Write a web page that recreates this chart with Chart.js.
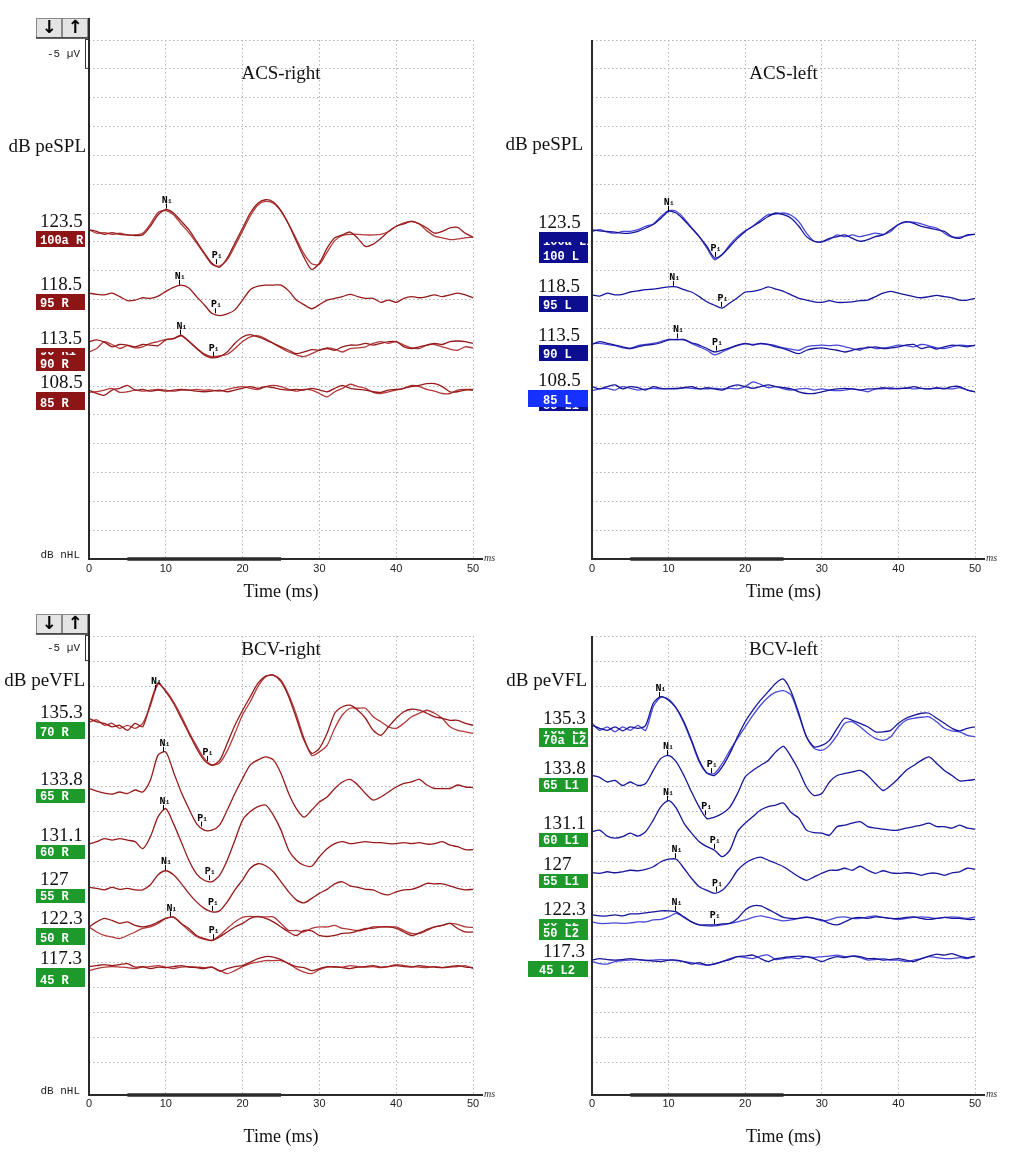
<!DOCTYPE html>
<html>
<head>
<meta charset="utf-8">
<title>VEMP recordings</title>
<script src="https://cdn.jsdelivr.net/npm/chart.js@4.4.1/dist/chart.umd.min.js"></script>
<style>
  html, body { margin: 0; padding: 0; background: #fff; }
  body { position: relative; width: 1021px; height: 1152px; overflow: hidden; }
  canvas { position: absolute; }
</style>
</head>
<body>
<canvas id="acsRight" width="505" height="610" style="left:0;top:0"></canvas>
<canvas id="acsLeft" width="516" height="610" style="left:505px;top:0"></canvas>
<canvas id="bcvRight" width="505" height="542" style="left:0;top:610px"></canvas>
<canvas id="bcvLeft" width="516" height="542" style="left:505px;top:610px"></canvas>
<script>
// sample times, ms
const timeMs = [0,1,2,3,4,5,6,7,8,9,10,11,12,13,14,15,16,17,18,19,20,21,22,23,24,25,
  26,27,28,29,30,31,32,33,34,35,36,37,38,39,40,41,42,43,44,45,46,47,48,49,50];

// ---- ACS right (µV, negative = up; base = trace baseline on the stacked axis)
const acsRightLevels = ['123.5', '118.5', '113.5', '108.5'];
const acsRightTags = ['100a R', '95 R', '90 R', '85 R'];
const acsRightBase = [-57.1, -46.1, -36.8, -29.1];
const acsRightN1 = [10.0, 11.7, 11.9, null];
const acsRightP1 = [16.5, 16.4, 16.1, null];
const acsR100a_1 = [0, 0.3, 0.8, 0.5, 0.8, 0.9, 1.0, 0.9, -0.6, -2.6,
  -3.5, -2.9, -1.5, 0, 2.0, 4.0, 5.8, 6.5, 4.9, 2.3,
  -0.3, -2.9, -4.6, -5.2, -4.8, -3.3, -0.9, 2.0, 4.8, 6.9,
  5.8, 3.2, 1.4, 0.9, 0.4, 1.5, 2.9, 2.5, 1.5, 0.3,
  -0.6, -1.0, -1.5, -1.0, -0.3, 0.6, 0.3, -0.3, -0.4, 0.6, 1.3];
const acsR100a_2 = [0, 0.6, 0.5, 0.8, 0.6, 0.9, 0.9, 0.6, -1.0, -3.0,
  -3.3, -2.6, -1.0, 0.5, 2.3, 4.2, 6.0, 6.3, 5.2, 2.8,
  0.2, -2.4, -4.3, -4.9, -4.6, -3.2, -1.0, 1.6, 4.2, 5.9,
  6.0, 3.9, 1.9, 1.0, 0.8, 0.8, 0.9, 0.9, 0.8, 0.3,
  -0.6, -1.2, -1.4, -1.0, 0.2, 1.1, 1.4, 1.7, 1.6, 1.4, 1.3];
const acsR95 = [0, 0.2, 0.3, 0, 0.6, 1.3, 1.2, 0.8, 0.9, 0.5,
  -0.3, -1.0, -1.4, -0.9, 0.6, 2.0, 3.5, 3.9, 3.6, 2.9,
  1.2, -0.6, -1.2, -1.4, -1.4, -1.4, -0.4, 1.2, 2.0, 2.7,
  2.0, 1.2, 0.9, 0.6, 0.2, 0.6, 0.9, 0.9, 1.6, 1.2,
  1.6, 0.9, 0.6, 0.8, 0.6, 0.3, 0.6, 0.3, 0, 0.3, 0.8];
const acsR90_1 = [-0.9, -1.2, -0.8, 0, -0.4, -0.3, 0, -0.4, -0.3, -0.2,
  -1.2, -1.4, -2.0, -0.9, 0.3, 1.4, 1.9, 1.7, 0.9, -0.6,
  -1.7, -2.1, -1.7, -1.2, -0.6, 0, 0.6, 1.2, 0.9, 0.5,
  0.6, 0.3, 0.6, 0, -0.3, -0.3, -0.6, -0.3, -0.6, -0.9,
  -0.9, 0, 0.3, 0, -0.3, -0.6, -0.4, -0.9, -1.0, -0.9, -0.6];
const acsR90_2 = [0.9, 0.3, -0.9, -0.4, 0.3, -0.2, 0.2, 0, -0.6, -0.9,
  -1.3, -1.4, -1.9, -1.0, 0.2, 1.2, 1.7, 1.6, 1.3, 0.3,
  -0.9, -1.7, -1.9, -1.4, -0.6, 0.2, 0.9, 1.4, 1.7, 1.2,
  0.6, 0.2, 0.4, 0.9, 0.3, 0.2, 0, -0.6, -0.9, -0.6,
  -0.9, -0.3, 0.2, 0.3, -0.3, -0.4, 0, 0.4, 0.6, 0, 0.2];
const acsR85_1 = [-0.2, 0.4, 0.7, -0.2, -0.5, -1.0, -0.2, -0.3, 0, -0.2,
  0, -0.2, -0.3, -0.2, 0, 0.1, 0, -0.2, 0.1, -0.2,
  -0.5, -0.8, -0.5, -0.8, -0.6, -0.3, -0.2, -0.3, -0.2, -0.5,
  -0.2, 0.1, -0.5, -1.0, -0.5, -0.3, -0.2, 0.1, 0.2, -0.2,
  -0.3, -0.5, -0.8, -1.0, -1.3, -1.3, -0.8, 0.1, 0.1, -0.2, -0.2];
const acsR85_2 = [0.2, 0.1, -0.2, -0.5, 0.2, 0.1, -0.2, 0, -0.2, -0.3,
  -0.2, 0, -0.2, -0.2, -0.3, -0.2, -0.2, 0, -0.3, -0.6,
  -0.8, -0.5, -0.3, -0.8, -1.0, -0.8, -0.3, 0, -0.3, -0.2,
  0.4, 1.0, 0.1, -0.5, -1.2, -0.8, -0.5, 0.2, 0.4, 0.1,
  -0.2, -0.5, -1.0, -0.8, -0.3, 0, 0.4, 0.4, -0.2, -0.3, -0.3];

// ---- ACS left
const acsLeftLevels = ['123.5', '118.5', '113.5', '108.5'];
const acsLeftTags = ['100 L', '95 L', '90 L', '85 L'];
const acsLeftBase = [-56.8, -45.8, -37.2, -29.5];
const acsLeftN1 = [9.9, 10.6, 11.1, null];
const acsLeftP1 = [16.0, 16.9, 16.2, null];
const acsL100_1 = [-0.3, -0.1, 0, 0.1, 0.3, 0.3, 0, -0.6, -1.2, -2.3,
  -3.5, -3.2, -2.0, -0.6, 0.9, 2.6, 4.6, 4.0, 2.6, 1.2,
  0, -0.9, -1.7, -2.6, -3.2, -2.9, -2.3, -0.9, 0.9, 1.7,
  1.8, 1.2, 0.9, 0.6, 1.2, 1.7, 1.4, 0.9, 0.6, -0.3,
  -1.2, -1.7, -1.4, -0.9, -0.6, -0.3, 0, 0.9, 1.2, 0.6, 0.5];
const acsL100_2 = [0, -0.3, 0.1, 0.3, 0, 0, -0.3, -0.9, -1.3, -2.6,
  -3.6, -3.5, -2.3, -0.6, 0.9, 2.9, 4.9, 4.0, 2.3, 0.9,
  -0.1, -0.9, -2.0, -2.9, -3.0, -3.2, -2.8, -1.7, 0.3, 1.7,
  1.8, 1.4, 0.6, 0.9, 0.6, 0.9, 0.6, 0.3, 0.5, 0,
  -1.2, -1.6, -1.6, -1.3, -0.9, -0.6, 0.3, 1.0, 1.0, 0.7, 0.5];
const acsL95 = [0, 0.2, -0.3, 0, -0.1, -0.5, -0.7, -0.9, -1.0, -1.2,
  -1.4, -1.4, -0.9, -0.5, 0.3, 1.2, 1.8, 2.3, 1.4, 0.5,
  -0.5, -0.6, -0.9, -1.4, -1.0, -0.6, 0, 0.6, 0.9, 1.2,
  1.3, 1.0, 1.3, 1.3, 1.2, 1.0, 0.9, 0.3, -0.3, -0.6,
  -0.3, 0, 0.3, 0.5, 0.3, 0.1, 0.3, 0.5, 0.9, 0.9, 0.6];
const acsL90_1 = [0, -0.5, -0.2, 0.1, 0.4, 0.7, 0.4, 0.1, 0, -0.3,
  -0.8, -0.9, -0.8, -0.3, 0.1, 0.7, 1.3, 1.0, 0.6, 0.1,
  -0.2, 0.1, -0.2, 0, 0.4, 0.7, 1.2, 1.6, 1.0, 0.7,
  0.6, 0.8, 1.0, 1.3, 1.0, 0.7, 0.6, 0.4, 0.7, 0.6,
  0.4, 0.1, 0, 0.7, 0.4, 0.8, 0.4, 0.1, 0.2, 0.4, 0.1];
const acsL90_2 = [-0.2, -0.2, 0, 0.2, 0.6, 0.7, 0.2, 0, -0.2, -0.5,
  -0.9, -0.8, -0.9, -0.2, 0.4, 1.0, 1.8, 1.3, 0.7, 0.2,
  -0.1, 0, -0.1, 0, 0.2, 0.6, 0.8, 1.0, 0.4, 0.2,
  0.1, 0.2, 0.1, 0.4, 0.7, 1.0, 0.4, 0.7, 0.6, 0.4,
  0.1, 0.2, 0.4, 0, 0.2, 0.6, 0.7, 0.4, 0.1, 0.2, 0.2];
const acsL85_1 = [-0.4, 0, -0.4, -0.7, 0, -0.4, -0.2, 0.2, -0.4, -0.1,
  0, -0.1, -0.2, -0.4, 0, -0.2, 0, 0.2, -0.4, -0.7,
  -0.4, -0.1, -0.4, -0.7, -0.4, -0.2, 0, 0.5, 0.8, 0.8,
  0.5, 0.2, 0, -0.1, 0, 0.2, 0, 0, -0.2, 0,
  -0.1, -0.1, -0.4, -0.1, 0, -0.2, 0, -0.4, -0.4, 0.2, 0.5];
const acsL85_2 = [0.3, 0, -0.1, 0.2, -0.4, -0.1, 0.2, 0, -0.1, 0,
  -0.1, 0, -0.2, -0.1, 0, 0, -0.1, 0, -0.1, 0,
  -0.4, -1.2, -0.8, -0.2, -0.4, 0, 0.2, 0, -0.1, 0.2,
  0, 0.2, 0.3, 0.2, 0, 0.2, 0.5, 0, 0, -0.2,
  0, -0.2, 0, -0.1, 0, -0.1, -0.1, 0, -0.2, 0.2, 0.5];

// ---- BCV right
const bcvRightLevels = ['135.3', '133.8', '131.1', '127', '122.3', '117.3'];
const bcvRightTags = ['70 R', '65 R', '60 R', '55 R', '50 R', '45 R'];
const bcvRightBase = [-73.1, -59.6, -48.5, -39.7, -32.0, -24.0];
const bcvRightN1 = [8.6, 9.7, 9.7, 9.9, 10.6, null];
const bcvRightP1 = [15.3, 14.6, 15.6, 16.0, 16.1, null];
const bcvR70_1 = [-0.5, 0.2, 0.5, 1.2, 0.9, 1.9, 0.5, 1.2, -3.5, -7.6,
  -5.8, -3.5, -0.5, 2.5, 5.5, 7.9, 8.9, 7.9, 4.5, 0.9,
  -2.1, -4.8, -7.5, -8.9, -9.1, -7.8, -4.8, -0.5, 3.9, 6.5,
  5.5, 2.5, -1.5, -2.8, -3.1, -2.1, -0.5, 1.9, 2.9, 1.2,
  -0.5, -1.8, -2.3, -2.1, -1.5, -0.8, -0.5, -0.1, -0.1, 0.5, 0.9];
const bcvR70_2 = [0.3, -0.2, 0.9, 0.5, 1.5, 0.9, 1.5, 0.5, -3.0, -7.3,
  -6.0, -3.8, -1.0, 2.2, 5.0, 7.5, 8.8, 8.4, 6.0, 2.5,
  -1.2, -3.8, -6.8, -8.8, -9.1, -8.1, -5.2, -1.2, 3.5, 6.9,
  6.2, 4.9, 1.5, -1.2, -2.5, -2.5, -2.5, -0.8, 0.2, 1.2,
  1.5, 0.5, -0.8, -1.5, -2.1, -1.5, -0.5, 1.2, 1.9, 2.2, 2.5];
const bcvR65 = [0, 0.5, 0.9, 1.1, 0.7, 1.0, 0.3, 0.7, -1.7, -6.7,
  -7.3, -3.3, 0.7, 4.0, 7.0, 8.3, 8.3, 7.3, 4.3, 1.0,
  -2.0, -4.7, -5.7, -6.3, -5.7, -3.0, 1.0, 4.0, 5.7, 4.3,
  2.7, 1.7, 0, -1.3, -1.8, -0.7, 1.0, 2.3, 1.7, 0.7,
  -0.3, -1.0, -1.3, -1.8, -0.7, 0, 0, 0, -0.7, -0.3, -0.2];
const bcvR60 = [0, -0.5, -1.1, -0.8, -1.1, -0.8, -0.5, 0.9, -1.5, -5.5,
  -7.1, -4.1, -0.5, 3.2, 5.9, 7.2, 7.5, 6.2, 3.2, -0.8,
  -4.8, -6.5, -7.5, -7.8, -5.8, -2.8, 1.2, 3.2, 4.2, 4.4,
  2.5, 0.9, -0.1, -0.5, -0.1, -0.3, -0.5, -0.3, -0.3, -0.1,
  -0.1, -0.3, -0.1, -0.3, 0, -0.1, -0.5, 0.2, 0.5, 1.1, 1.1];
const bcvR55 = [-0.2, 0, 0.3, -0.2, 0.2, 0, 0.3, 0.3, -0.7, -2.7,
  -3.5, -2.7, -1.0, 1.0, 2.7, 4.0, 4.7, 4.5, 2.7, 0.3,
  -1.7, -4.0, -4.9, -4.5, -3.3, -1.3, 0.7, 2.3, 2.9, 2.0,
  1.0, 0.2, -0.9, -1.3, -0.5, -0.2, 0.2, 0.3, 1.0, 1.3,
  0.7, 0.3, 0.2, -0.3, -1.0, -0.9, -0.9, -0.5, 0, 0.3, 0.2];
const bcvR50_1 = [0, -1.0, -1.7, -1.3, -0.7, -1.0, -0.3, 0, -0.3, -1.0,
  -1.7, -2.0, -0.7, 0.3, 1.7, 2.3, 2.7, 2.0, 1.0, 0,
  -0.7, -1.7, -2.1, -1.7, -1.0, 0, 1.0, 1.7, 0.7, 0.8,
  1.7, 1.9, 1.7, 1.3, 1.2, 0.8, 0.5, 0, 0, 0,
  0.3, 1.0, 1.7, 1.2, 0.5, 0, -0.3, -0.7, 0.3, 1.0, 1.0];
const bcvR50_2 = [0, 1.0, 1.7, 2.0, 2.3, 1.7, 1.0, 0.3, 0, -0.7,
  -1.7, -1.9, -0.7, 0.7, 1.9, 2.5, 2.7, 1.7, 0.3, -1.0,
  -1.9, -2.1, -2.0, -2.0, -2.0, -0.7, 0.7, 0.7, 1.0, 0.3,
  0, 0, -0.3, 0.3, 0.5, 0.7, 0.3, 0.3, 0, 0,
  0, 0.7, 1.3, 1.3, 0.7, 0, -0.3, -0.7, -0.5, 0, 0.1];
const bcvR45_1 = [-0.1, -0.3, -0.5, -0.3, -0.5, -0.7, 0, -0.1, 0.3, 0,
  0.1, -0.1, -0.3, 0, 0.1, 0.3, 0, 0.8, 0.3, -0.1,
  -0.3, -1.0, -1.7, -2.1, -2.0, -1.5, -0.7, -0.1, 0.1, 0.7,
  0.3, -0.1, 0, 0.1, 0.3, 0, -0.1, -0.3, 0, -0.1,
  -0.3, -0.1, 0, -0.3, -0.1, 0, 0.1, -0.1, -0.3, 0, 0.1];
const bcvR45_2 = [0.7, 0.3, 0, -0.1, 0, 0.1, 0.3, 0, -0.1, -0.3,
  0, 0.3, 0, -0.1, 0, 0.1, 0, 0.7, 1.3, 0.7,
  -0.1, -0.7, -1.0, -1.3, -1.3, -1.3, -0.7, 0.3, 1.0, 1.3,
  0.5, 0, -0.1, 0, -0.3, -0.1, 0, -0.1, 0.1, -0.1,
  -0.5, -0.3, -0.1, 0, 0.1, -0.1, 0.1, 0, -0.1, -0.3, 0.3];

// ---- BCV left
const bcvLeftLevels = ['135.3', '133.8', '131.1', '127', '122.3', '117.3'];
const bcvLeftTags = ['70a L2', '65 L1', '60 L1', '55 L1', '50 L2', '45 L2'];
const bcvLeftBase = [-71.9, -61.9, -51.0, -42.8, -33.7, -25.4];
const bcvLeftN1 = [8.8, 9.8, 9.8, 10.9, 10.9, null];
const bcvLeftP1 = [15.5, 14.8, 15.9, 16.2, 15.9, null];
const bcvL70_1 = [-0.3, 0.3, 0.7, 0, 0.8, 0, 0.3, -0.3, -4.7, -6.0,
  -5.3, -3.7, -1.0, 2.7, 6.7, 9.2, 9.7, 8.0, 5.3, 2.0,
  -1.0, -3.3, -5.3, -7.0, -8.7, -9.5, -7.0, -2.7, 2.0, 4.0,
  3.7, 2.7, 0.3, -1.7, -1.3, -0.7, 0, 1.0, 1.0, 0.7,
  -0.7, -1.7, -2.3, -2.7, -2.7, -1.7, -0.7, 0.3, 0.8, 0.3, 0];
const bcvL70_2 = [-0.7, 0.7, 0, 1.0, 0, 0.7, -0.3, 0.7, -4.0, -5.9,
  -5.5, -3.7, -0.7, 3.0, 7.0, 9.2, 9.3, 7.3, 4.7, 2.3,
  0, -2.3, -4.3, -5.9, -6.9, -7.2, -6.3, -2.3, 2.0, 4.3,
  4.7, 3.7, 1.7, -0.7, -1.0, 0, 1.3, 2.3, 2.7, 2.0,
  0, -1.3, -1.7, -1.9, -2.0, -1.0, 0.3, 0.8, 1.0, 1.7, 2.0];
const bcvL65 = [-0.3, 0.1, 1.0, 0.7, 1.7, 1.0, 1.7, 1.3, -1.3, -3.7,
  -4.3, -3.0, -0.3, 3.0, 6.0, 8.3, 8.0, 7.3, 6.0, 3.3,
  0, -1.3, -2.3, -3.3, -5.0, -6.1, -4.0, -1.3, 2.0, 3.7,
  3.3, 1.0, -0.3, -0.7, -1.0, -1.3, -0.3, 1.3, 2.7, 1.7,
  0.3, -1.3, -2.3, -3.3, -4.0, -2.7, -1.3, -0.3, 0.8, 0.7, 0.5];
const bcvL60 = [0, -0.3, 0.9, 1.3, 1.0, 0.3, 0.9, 0, -2.3, -5.0,
  -6.2, -4.7, -1.7, 0.3, 2.0, 3.0, 3.7, 5.0, 3.7, 0,
  -1.7, -3.0, -4.3, -5.0, -5.3, -5.7, -3.8, -2.7, -0.3, 0.2,
  0.3, 0.7, -1.0, -1.3, -1.7, -2.0, -1.0, -0.7, -0.5, -0.3,
  -0.3, -0.7, -1.0, -1.3, -1.7, -1.0, -1.0, -0.7, -1.3, -0.7, -0.5];
const bcvL55 = [0, 0.1, -0.2, 0, -0.2, -0.5, -0.4, -0.7, -1.2, -2.2,
  -2.7, -2.7, -0.9, 1.1, 2.8, 3.5, 4.1, 3.5, 1.8, -0.5,
  -1.9, -2.7, -3.1, -2.5, -1.9, -1.2, -0.2, 0.8, 1.5, 0.8,
  0.1, -0.5, -0.5, -0.9, -0.5, -1.3, -0.5, 0.1, -0.4, 0,
  0.1, 0, 0.1, 0.5, 0.1, 0.1, 0.5, 0, -0.2, -0.9, -0.7];
const bcvL50_1 = [-0.7, -0.5, -0.5, -0.7, -0.5, -0.9, -0.9, -1.1, -1.3, -1.5,
  -1.5, -1.3, -0.3, 0.7, 1.3, 1.3, 1.3, 1.1, 1.0, 0,
  -1.7, -2.5, -2.5, -1.8, -1.0, -0.2, 0, 0, -0.2, 0,
  0.3, 1.0, 1.3, 0.7, 0, -0.2, 0, -0.3, -0.2, 0,
  0, -0.2, -0.3, 0, 0.2, 0, -0.2, 0, 0, 0.2, 0.2];
const bcvL50_2 = [0.7, 1.0, 1.0, 0.9, 1.0, 0.9, 0.7, 0.7, 0.3, 0.2,
  -0.3, -1.0, -0.2, 0.7, 1.3, 1.5, 1.5, 1.3, 1.0, 0.7,
  0.3, -0.2, -0.5, -0.2, 0.2, 0.5, 0.3, 0, -0.3, 0,
  0.5, 0.3, -0.2, -0.3, 0, 0, -0.3, -0.5, -0.2, 0,
  0.2, 0, -0.2, -0.3, -0.2, 0, -0.2, -0.3, -0.2, 0, -0.3];
const bcvL45_1 = [0, -0.3, -0.1, 0, -0.1, -0.3, -0.1, 0, 0.2, 0.3,
  0, 0, 0.3, 0.8, 0.5, 1.0, 0.8, 0.3, -0.1, -0.7,
  -0.8, -1.0, -0.3, 0.3, -0.3, -0.5, -0.7, -0.8, -0.7, -0.3,
  0.3, -0.3, -0.7, -0.5, -0.8, -0.7, -0.3, -0.3, 0, -0.1,
  -0.3, 0, 0.3, -0.3, -0.8, -1.2, -1.0, -1.3, -0.8, -0.5, -0.8];
const bcvL45_2 = [0.3, 0.7, 0.8, 0.3, 0.1, 0, -0.1, 0.1, 0, -0.1,
  0, 0.1, 0.3, 0.5, 0.8, 1.0, 0.7, 0.3, -0.3, -0.7,
  -0.5, -0.3, -0.8, -1.0, -0.1, -0.3, -0.5, -0.3, -0.7, -0.5,
  -0.7, -0.8, -1.0, -0.7, -0.8, -0.5, 0, -0.1, -0.3, 0,
  0, 0.3, 0, -0.3, -0.7, -0.5, -0.3, -0.3, -0.5, -0.3, -0.7];

const RED = ['#961a1a', '#b23a3a'];
const BLUE = ['#16169a', '#4848d8'];
const SERIF = '"Liberation Serif", "Times New Roman", serif';
const MONO = '"Liberation Mono", "DejaVu Sans Mono", monospace';
const GRID = '#b4b4b4';

function interp(tr, t) {
  const i = Math.floor(t), f = t - i;
  if (i >= tr.length - 1) return tr[tr.length - 1];
  return tr[i] * (1 - f) + tr[i + 1] * f;
}

function peakMark(ctx, px, py, letter) {
  ctx.strokeStyle = '#000';
  ctx.lineWidth = 1;
  ctx.beginPath();
  ctx.moveTo(Math.round(px) + 0.5, py - 1);
  ctx.lineTo(Math.round(px) + 0.5, py - 6);
  ctx.stroke();
  ctx.fillStyle = '#000';
  ctx.textAlign = 'center';
  ctx.textBaseline = 'alphabetic';
  ctx.font = 'bold 10px ' + MONO;
  ctx.fillText(letter, px - 1, py - 7);
  ctx.font = 'bold 6px ' + MONO;
  ctx.fillText('1', px + 4, py - 7);
}

function makeDecor(o) {
  return {
    id: 'decor',
    afterDatasetsDraw(chart) {
      const {ctx, scales: {x, y}} = chart;
      ctx.save();
      o.n1.forEach((t, i) => {
        if (t == null) return;
        const tr = o.traces[i][0];
        peakMark(ctx, x.getPixelForValue(t), y.getPixelForValue(o.base[i] + interp(tr, t)), 'N');
        const p = o.p1[i];
        peakMark(ctx, x.getPixelForValue(p), y.getPixelForValue(o.base[i] + interp(tr, p)), 'P');
      });
      ctx.restore();
    },
    afterDraw(chart) {
      const {ctx, chartArea: a, scales: {x, y}} = chart;
      const grid = y.getPixelForValue(-85) - y.getPixelForValue(-90);
      const bt = a.top - 22;
      ctx.save();

      if (o.controls) {
        ['\u2193', '\u2191'].forEach((s, k) => {
          const bx = a.left - 53 + k * 26;
          ctx.fillStyle = '#e4e4e4';
          ctx.fillRect(bx, bt, 26, 20);
          ctx.strokeStyle = '#8a8a8a';
          ctx.lineWidth = 1;
          ctx.strokeRect(bx + 0.5, bt + 0.5, 25, 19);
          ctx.fillStyle = '#000';
          ctx.font = 'bold 18px "DejaVu Sans"';
          ctx.textAlign = 'center';
          ctx.textBaseline = 'middle';
          ctx.fillText(s, bx + 13, bt + 10);
        });
        ctx.strokeStyle = '#333';
        ctx.lineWidth = 1.5;
        ctx.beginPath();
        ctx.moveTo(a.left - 53, bt + 20);
        ctx.lineTo(a.left, bt + 20);
        ctx.stroke();
        // scale bar
        ctx.fillStyle = '#fff';
        ctx.fillRect(a.left - 4, a.top - 1, 4, grid + 1);
        ctx.strokeStyle = '#333';
        ctx.lineWidth = 1;
        ctx.strokeRect(a.left - 3.5, a.top - 0.5, 3.5, grid);
        ctx.fillStyle = '#222';
        ctx.font = '11px ' + MONO;
        ctx.textAlign = 'right';
        ctx.textBaseline = 'middle';
        ctx.fillText('-5 \u00b5V', a.left - 9, a.top + grid / 2);
        ctx.textBaseline = 'alphabetic';
        ctx.fillText('dB nHL', a.left - 9, a.bottom - 1);
      }

      // axes
      ctx.strokeStyle = '#2a2a2a';
      ctx.lineWidth = 2;
      ctx.beginPath();
      ctx.moveTo(a.left, o.controls ? bt : a.top);
      ctx.lineTo(a.left, a.bottom);
      ctx.lineTo(a.right + 10, a.bottom);
      ctx.stroke();
      ctx.lineWidth = 3.5;
      ctx.beginPath();
      ctx.moveTo(x.getPixelForValue(5), a.bottom);
      ctx.lineTo(x.getPixelForValue(25), a.bottom);
      ctx.stroke();
      ctx.fillStyle = '#333';
      ctx.font = 'italic 10px ' + SERIF;
      ctx.textAlign = 'left';
      ctx.textBaseline = 'middle';
      ctx.fillText('ms', a.right + 11, a.bottom - 1);

      // title and unit
      ctx.fillStyle = '#111';
      ctx.font = '19px ' + SERIF;
      ctx.textAlign = 'center';
      ctx.textBaseline = 'alphabetic';
      ctx.fillText(o.title, (a.left + a.right) / 2, a.top + o.titleDy);
      ctx.textAlign = 'right';
      ctx.fillText(o.unit, a.left - o.unitDx, a.top + o.unitDy);

      // level numbers and stimulus boxes
      o.levels.forEach((lv, i) => {
        const b = o.boxes[i] || {};
        const h = b.h || 16, w = b.w || 49;
        const right = a.left - 4, left = right - w;
        const top = Math.round(y.getPixelForValue(o.base[i])) + 1;
        ctx.textAlign = 'left';
        ctx.textBaseline = 'alphabetic';
        ctx.font = 'bold 12px ' + MONO;
        if (b.back) {
          ctx.fillStyle = o.boxColor;
          ctx.fillRect(right - 49, top + 4, 49, h);
          ctx.fillStyle = '#fff';
          ctx.fillText(b.back, right - 45, top + h + 2);
        }
        ctx.fillStyle = b.color || o.boxColor;
        ctx.fillRect(left, top, w, h);
        ctx.fillStyle = '#fff';
        if (b.ghost) {
          ctx.save();
          ctx.beginPath();
          ctx.rect(left, top + b.gc, w, h - b.gc);
          ctx.clip();
          ctx.fillText(b.ghost, left + 4, top + b.gy);
          ctx.restore();
        }
        ctx.fillText(o.tags[i], left + 4 + (b.tx || 0), top + h - 3);
        ctx.fillStyle = '#111';
        ctx.font = '19px ' + SERIF;
        ctx.fillText(lv, a.left - o.numDx, top - 4);
      });
      ctx.restore();
    }
  };
}

function build(id, o, geo) {
  const datasets = [];
  o.traces.forEach((group, gi) => group.forEach((tr, k) => datasets.push({
    data: tr.map((v, i) => ({x: timeMs[i], y: o.base[gi] + v})),
    borderColor: o.colors[k],
    borderWidth: 1.3,
    pointRadius: 0,
    tension: 0.25,
    fill: false
  })));
  return new Chart(document.getElementById(id), {
    type: 'line',
    data: {datasets},
    options: {
      responsive: false,
      animation: false,
      events: [],
      layout: {padding: geo.pad},
      plugins: {legend: {display: false}, tooltip: {enabled: false}},
      scales: {
        x: {
          type: 'linear', min: 0, max: 50,
          ticks: {stepSize: 10, padding: geo.tickPad, color: '#222', maxRotation: 0,
                  font: {family: 'Liberation Sans', size: 11}},
          grid: {color: GRID, lineWidth: 1, drawTicks: false, borderDash: [1.5, 2.5]},
          border: {display: false, dash: [1.5, 2.5]},
          title: {display: true, text: 'Time (ms)', color: '#111', padding: {top: 0, bottom: 1},
                  font: {family: 'Liberation Serif', size: 18}},
          afterFit(s) { s.height = geo.axisH; s.paddingLeft = 0; s.paddingRight = 0; }
        },
        y: {
          type: 'linear', reverse: true, min: -90, max: geo.yMax,
          ticks: {display: false, stepSize: 5},
          grid: {color: GRID, lineWidth: 1, drawTicks: false, borderDash: [1.5, 2.5]},
          border: {display: false, dash: [1.5, 2.5]},
          afterFit(s) { s.width = 0; s.paddingTop = 0; s.paddingBottom = 0; }
        }
      }
    },
    plugins: [makeDecor(o)]
  });
}

build('acsRight', {
  title: 'ACS-right', titleDy: 39, unit: 'dB peSPL', unitDx: 3, unitDy: 112, numDx: 49,
  levels: acsRightLevels, tags: acsRightTags, base: acsRightBase, n1: acsRightN1, p1: acsRightP1,
  traces: [[acsR100a_1, acsR100a_2], [acsR95], [acsR90_1, acsR90_2], [acsR85_1, acsR85_2]],
  colors: RED, boxColor: '#8c1515', controls: true,
  boxes: [{}, {}, {h: 23, ghost: '90 R1', gc: 4, gy: 7}, {h: 18}]
}, {pad: {left: 89, right: 32, top: 40, bottom: 6}, axisH: 45, yMax: 0, tickPad: 3});

build('acsLeft', {
  title: 'ACS-left', titleDy: 39, unit: 'dB peSPL', unitDx: 9, unitDy: 110, numDx: 54,
  levels: acsLeftLevels, tags: acsLeftTags, base: acsLeftBase, n1: acsLeftN1, p1: acsLeftP1,
  traces: [[acsL100_1, acsL100_2], [acsL95], [acsL90_1, acsL90_2], [acsL85_1, acsL85_2]],
  colors: BLUE, boxColor: '#0d0d8f', controls: false,
  boxes: [{h: 31, ghost: '100a L1', gc: 10, gy: 13}, {}, {}, {h: 17, w: 60, tx: 11, color: '#1530ff', back: '85 L1'}]
}, {pad: {left: 87, right: 46, top: 40, bottom: 6}, axisH: 45, yMax: 0, tickPad: 3});

build('bcvRight', {
  title: 'BCV-right', titleDy: 19, unit: 'dB peVFL', unitDx: 4, unitDy: 50, numDx: 49,
  levels: bcvRightLevels, tags: bcvRightTags, base: bcvRightBase, n1: bcvRightN1, p1: bcvRightP1,
  traces: [[bcvR70_1, bcvR70_2], [bcvR65], [bcvR60], [bcvR55], [bcvR50_1, bcvR50_2], [bcvR45_1, bcvR45_2]],
  colors: RED, boxColor: '#1d9a2b', controls: true,
  boxes: [{h: 17}, {h: 14}, {h: 14}, {h: 14}, {h: 17}, {h: 19}]
}, {pad: {left: 89, right: 32, top: 26, bottom: 3}, axisH: 54, yMax: 1.5, tickPad: 2});

build('bcvLeft', {
  title: 'BCV-left', titleDy: 19, unit: 'dB peVFL', unitDx: 5, unitDy: 50, numDx: 49,
  levels: bcvLeftLevels, tags: bcvLeftTags, base: bcvLeftBase, n1: bcvLeftN1, p1: bcvLeftP1,
  traces: [[bcvL70_1, bcvL70_2], [bcvL65], [bcvL60], [bcvL55], [bcvL50_1, bcvL50_2], [bcvL45_1, bcvL45_2]],
  colors: BLUE, boxColor: '#1d9a2b', controls: false,
  boxes: [{h: 19, ghost: '70a L2', gc: 3, gy: 6}, {h: 14}, {h: 14}, {h: 14},
          {h: 21, ghost: '50 L2', gc: 4, gy: 7}, {h: 16, w: 60, tx: 7}]
}, {pad: {left: 87, right: 46, top: 26, bottom: 3}, axisH: 54, yMax: 1.5, tickPad: 2});
</script>
</body>
</html>
